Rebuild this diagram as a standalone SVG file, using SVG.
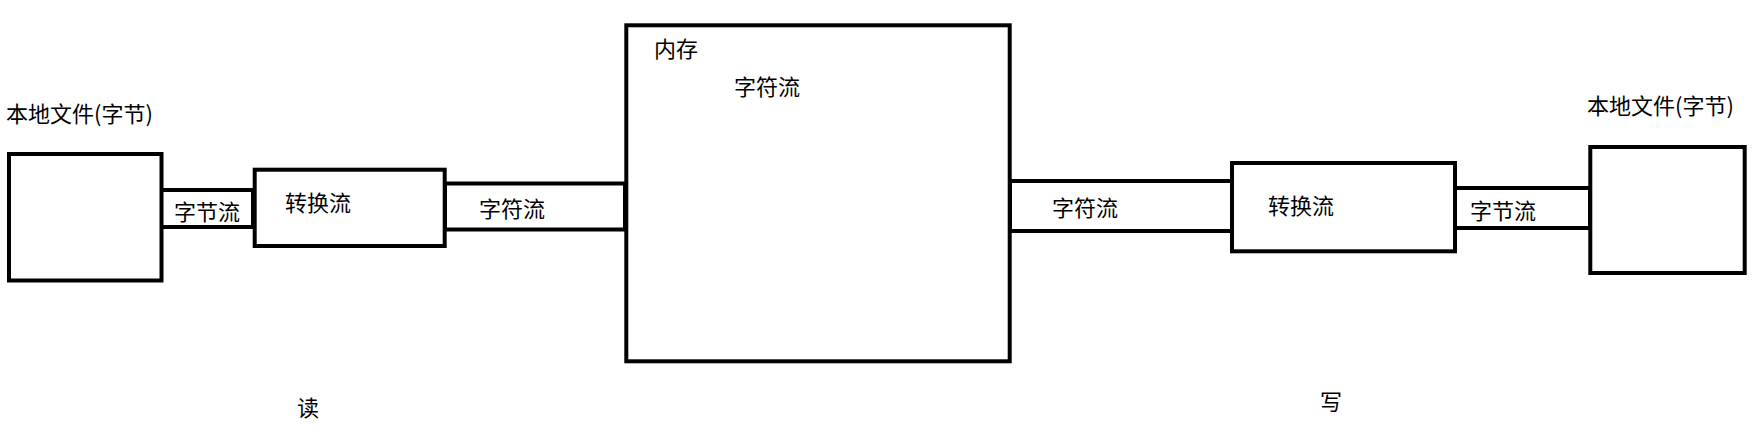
<svg xmlns="http://www.w3.org/2000/svg" width="1756" height="432" viewBox="0 0 1756 432">
<style>
.box{fill:#fff;stroke:#000;stroke-width:4}
.pipe{fill:#fff;stroke:#000;stroke-width:4}
text{font-family:"Microsoft YaHei","Noto Sans CJK SC",sans-serif;font-size:22px;fill:#000}
</style>
<rect width="1756" height="432" fill="#fff"/>
<g id="connectors">
<g id="byte-in"><rect class="pipe" x="161" y="190" width="92" height="37"/><text x="174" y="220">字节流</text></g>
<g id="char-in"><rect class="pipe" x="445" y="183.5" width="180" height="46"/><text x="479" y="217">字符流</text></g>
<g id="char-out"><rect class="pipe" x="1010" y="181" width="222" height="50"/><text x="1052" y="216">字符流</text></g>
<g id="byte-out"><rect class="pipe" x="1455" y="188" width="135" height="40"/><text x="1470" y="219">字节流</text></g>
</g>
<g id="file-left"><rect class="box" x="9" y="154" width="152.5" height="126.5"/><text x="6" y="122">本地文件(字节)</text></g>
<g id="convert-left"><rect class="box" x="254.7" y="169.7" width="190" height="76.3"/><text x="285" y="211">转换流</text></g>
<g id="memory"><rect class="box" x="626.3" y="25.3" width="383.4" height="336"/><text x="654" y="57">内存</text><text x="734" y="95">字符流</text></g>
<g id="convert-right"><rect class="box" x="1232" y="163" width="223" height="88.3"/><text x="1268" y="214">转换流</text></g>
<g id="file-right"><rect class="box" x="1590.3" y="147" width="154.4" height="126"/><text x="1587" y="114">本地文件(字节)</text></g>
<g id="read"><text x="297" y="416">读</text></g>
<g id="write"><text x="1320" y="410">写</text></g>
</svg>
